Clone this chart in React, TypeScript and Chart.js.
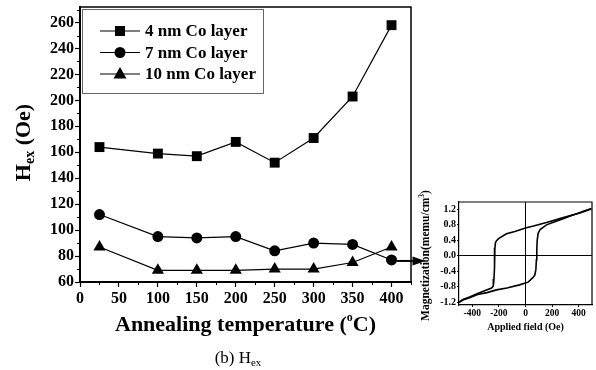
import React, { useEffect, useRef } from 'react';
import { Chart, registerables } from 'chart.js';

Chart.register(...registerables);

// ---- Main chart data ----
const temperatures = [25, 100, 150, 200, 250, 300, 350, 400];
const hex4nm = [164, 159, 157, 168, 152, 171, 203, 258];
const hex7nm = [112, 95, 94, 95, 84, 90, 89, 77];
const hex10nm = [87, 69, 69, 69, 70, 70, 75, 87];
const seriesLabels = ['4 nm Co layer', '7 nm Co layer', '10 nm Co layer'];
const seriesMarkers = ['rect', 'circle', 'triangle'];
const xTickValues = [0, 50, 100, 150, 200, 250, 300, 350, 400];
const yTickValues = [60, 80, 100, 120, 140, 160, 180, 200, 220, 240, 260];

// ---- Inset hysteresis loop data ----
const fieldDown = [495, 440, 380, 278, 158, 60, 0, -80, -143, -200, -218, -226, -230, -232, -234, -237, -242, -255, -293, -360, -420, -470, -500];
const magDown = [1.22, 1.16, 1.08, 0.98, 0.86, 0.77, 0.72, 0.63, 0.57, 0.45, 0.39, 0.34, 0.2, 0.0, -0.3, -0.6, -0.78, -0.83, -0.88, -0.97, -1.06, -1.13, -1.2];
const fieldUp = [-500, -470, -420, -360, -290, -218, -140, -45, 20, 53, 70, 78, 82, 85, 88, 95, 110, 158, 220, 278, 350, 420, 495];
const magUp = [-1.2, -1.14, -1.08, -1.0, -0.95, -0.88, -0.83, -0.75, -0.68, -0.57, -0.5, -0.35, -0.1, 0.15, 0.4, 0.58, 0.68, 0.8, 0.88, 0.95, 1.05, 1.12, 1.21];
const insetXTicks = [-400, -200, 0, 200, 400];
const insetYTicks = [-1.2, -0.8, -0.4, 0.0, 0.4, 0.8, 1.2];

const SERIF = "'Liberation Serif', 'Times New Roman', serif";

function drawMarker(ctx: CanvasRenderingContext2D, style: string, x: number, y: number) {
  ctx.beginPath();
  if (style === 'rect') {
    ctx.rect(x - 5, y - 5, 10, 10);
  } else if (style === 'circle') {
    ctx.arc(x, y, 5.5, 0, Math.PI * 2);
  } else {
    ctx.moveTo(x, y - 7);
    ctx.lineTo(x + 6.5, y + 4.5);
    ctx.lineTo(x - 6.5, y + 4.5);
    ctx.closePath();
  }
  ctx.fill();
}

const mainDecor = {
  id: 'mainDecor',
  afterDraw(chart: any) {
    const { ctx, chartArea, scales } = chart;
    const xs = scales.x;
    const ys = scales.y;
    ctx.save();
    ctx.strokeStyle = '#000';
    ctx.fillStyle = '#000';
    ctx.lineWidth = 1.5;
    ctx.beginPath();
    ctx.moveTo(chartArea.left, chartArea.top);
    ctx.lineTo(chartArea.right, chartArea.top);
    ctx.lineTo(chartArea.right, chartArea.bottom);
    ctx.stroke();
    ctx.lineWidth = 1;
    ctx.beginPath();
    for (let v = 70; v <= 270; v += 20) {
      const py = Math.round(ys.getPixelForValue(v)) + 0.5;
      ctx.moveTo(chartArea.left - 3, py);
      ctx.lineTo(chartArea.left, py);
    }
    for (let v = 25; v <= 425; v += 50) {
      const px = Math.round(xs.getPixelForValue(v)) + 0.5;
      ctx.moveTo(px, chartArea.bottom);
      ctx.lineTo(px, chartArea.bottom + 3);
    }
    ctx.stroke();

    const lx = chartArea.left + 2;
    const ly = chartArea.top + 2;
    ctx.strokeStyle = '#666';
    ctx.lineWidth = 1;
    ctx.strokeRect(lx + 0.5, ly + 0.5, 181, 84);
    ctx.strokeStyle = '#000';
    ctx.font = `bold 17px ${SERIF}`;
    ctx.textBaseline = 'middle';
    ctx.textAlign = 'left';
    seriesLabels.forEach((label, i) => {
      const ry = ly + 22 + i * 21.5;
      ctx.lineWidth = 1.2;
      ctx.beginPath();
      ctx.moveTo(lx + 18, ry);
      ctx.lineTo(lx + 58, ry);
      ctx.stroke();
      drawMarker(ctx, seriesMarkers[i], lx + 38, ry);
      ctx.fillText(label, lx + 63, ry + 1);
    });

    ctx.save();
    ctx.translate(22, (chartArea.top + chartArea.bottom) / 2 - 2);
    ctx.rotate(-Math.PI / 2);
    ctx.font = `bold 22px ${SERIF}`;
    const hW = ctx.measureText('H').width;
    ctx.font = `bold 14px ${SERIF}`;
    const subW = ctx.measureText('ex').width;
    ctx.font = `bold 22px ${SERIF}`;
    const restW = ctx.measureText(' (Oe)').width;
    let tx = -(hW + subW + restW) / 2;
    ctx.textBaseline = 'alphabetic';
    ctx.fillText('H', tx, 8);
    tx += hW;
    ctx.font = `bold 14px ${SERIF}`;
    ctx.fillText('ex', tx, 12);
    tx += subW;
    ctx.font = `bold 22px ${SERIF}`;
    ctx.fillText(' (Oe)', tx, 8);
    ctx.restore();

    ctx.textBaseline = 'alphabetic';
    ctx.font = `bold 22px ${SERIF}`;
    const p1 = 'Annealing temperature (';
    const p3 = 'C)';
    const w1 = ctx.measureText(p1).width;
    const w3 = ctx.measureText(p3).width;
    ctx.font = `bold 12px ${SERIF}`;
    const w2 = ctx.measureText('o').width;
    const cx = (chartArea.left + chartArea.right) / 2;
    let sx = cx - (w1 + w2 + w3) / 2;
    const by = 331;
    ctx.font = `bold 22px ${SERIF}`;
    ctx.fillText(p1, sx, by);
    sx += w1;
    ctx.font = `bold 12px ${SERIF}`;
    ctx.fillText('o', sx, by - 10);
    sx += w2;
    ctx.font = `bold 22px ${SERIF}`;
    ctx.fillText(p3, sx, by);

    ctx.font = `17px ${SERIF}`;
    const c1 = '(b) H';
    const cw1 = ctx.measureText(c1).width;
    ctx.font = `11px ${SERIF}`;
    const cw2 = ctx.measureText('ex').width;
    let ccx = 238 - (cw1 + cw2) / 2;
    ctx.font = `17px ${SERIF}`;
    ctx.fillText(c1, ccx, 363);
    ccx += cw1;
    ctx.font = `11px ${SERIF}`;
    ctx.fillText('ex', ccx, 366);

    const ax = xs.getPixelForValue(temperatures[temperatures.length - 1]) + 5;
    const ay = ys.getPixelForValue(hex7nm[hex7nm.length - 1]) + 1;
    ctx.lineWidth = 2;
    ctx.beginPath();
    ctx.moveTo(ax, ay);
    ctx.lineTo(ax + 18, ay);
    ctx.stroke();
    ctx.beginPath();
    ctx.moveTo(ax + 16, ay - 4.5);
    ctx.lineTo(ax + 29, ay);
    ctx.lineTo(ax + 16, ay + 4.5);
    ctx.closePath();
    ctx.fill();
    ctx.restore();
  },
};

const insetDecor = {
  id: 'insetDecor',
  afterDraw(chart: any) {
    const { ctx, chartArea } = chart;
    ctx.save();
    ctx.strokeStyle = '#000';
    ctx.fillStyle = '#000';
    ctx.lineWidth = 1.2;
    ctx.beginPath();
    ctx.moveTo(chartArea.left, chartArea.top);
    ctx.lineTo(chartArea.right, chartArea.top);
    ctx.lineTo(chartArea.right, chartArea.bottom);
    ctx.stroke();
    ctx.save();
    ctx.translate(13, (chartArea.top + chartArea.bottom) / 2 + 2);
    ctx.rotate(-Math.PI / 2);
    ctx.font = `bold 11.5px ${SERIF}`;
    const m1 = 'Magnetization(memu/cm';
    const mw1 = ctx.measureText(m1).width;
    ctx.font = `bold 7.5px ${SERIF}`;
    const mw2 = ctx.measureText('3').width;
    ctx.font = `bold 11.5px ${SERIF}`;
    const mw3 = ctx.measureText(')').width;
    let tx = -(mw1 + mw2 + mw3) / 2;
    ctx.textBaseline = 'middle';
    ctx.fillText(m1, tx, 0);
    tx += mw1;
    ctx.font = `bold 7.5px ${SERIF}`;
    ctx.fillText('3', tx, -4);
    tx += mw2;
    ctx.font = `bold 11.5px ${SERIF}`;
    ctx.fillText(')', tx, 0);
    ctx.restore();
    ctx.font = `bold 10px ${SERIF}`;
    ctx.textAlign = 'center';
    ctx.textBaseline = 'middle';
    ctx.fillText('Applied field (Oe)', (chartArea.left + chartArea.right) / 2, chartArea.bottom + 22);
    ctx.restore();
  },
};

export default function App() {
  const mainRef = useRef<HTMLCanvasElement>(null);
  const insetRef = useRef<HTMLCanvasElement>(null);

  useEffect(() => {
    const mk = (vals: number[]) => temperatures.map((t, i) => ({ x: t, y: vals[i] }));
    const seriesValues = [hex4nm, hex7nm, hex10nm];
    const radii = [7, 5.5, 7];
    const main = new Chart(mainRef.current as HTMLCanvasElement, {
      type: 'line',
      data: {
        datasets: seriesLabels.map((label, i) => ({
          label,
          data: mk(seriesValues[i]),
          borderColor: '#000',
          backgroundColor: '#000',
          borderWidth: 1.2,
          pointStyle: seriesMarkers[i] as any,
          pointRadius: radii[i],
          pointBackgroundColor: '#000',
          pointBorderColor: '#000',
          pointBorderWidth: 0,
          tension: 0,
        })),
      },
      options: {
        responsive: false,
        animation: false,
        layout: { padding: { left: 0, top: 5, right: 185, bottom: 0 } },
        plugins: { legend: { display: false }, tooltip: { enabled: false } },
        scales: {
          x: {
            type: 'linear',
            min: 0,
            max: 425,
            afterBuildTicks: (s: any) => {
              s.ticks = xTickValues.map((v) => ({ value: v }));
            },
            afterFit: (s: any) => {
              s.height = 88;
            },
            ticks: {
              color: '#000',
              font: { family: SERIF, size: 16, weight: 'bold' },
              padding: 2,
              maxRotation: 0,
              autoSkip: false,
              callback: (v: any) => String(v),
            },
            grid: { drawOnChartArea: false, color: '#000', tickLength: 5, tickWidth: 1.2 },
            border: { color: '#000', width: 2 },
          },
          y: {
            type: 'linear',
            min: 60,
            max: 272,
            afterBuildTicks: (s: any) => {
              s.ticks = yTickValues.map((v) => ({ value: v }));
            },
            afterFit: (s: any) => {
              s.width = 80;
              s.paddingTop = 0;
              s.paddingBottom = 0;
            },
            ticks: {
              color: '#000',
              font: { family: SERIF, size: 16, weight: 'bold' },
              padding: 1,
              autoSkip: false,
              callback: (v: any) => String(v),
            },
            grid: { drawOnChartArea: false, color: '#000', tickLength: 5, tickWidth: 1.2 },
            border: { color: '#000', width: 2 },
          },
        },
      },
      plugins: [mainDecor],
    });

    const inset = new Chart(insetRef.current as HTMLCanvasElement, {
      type: 'scatter',
      data: {
        datasets: [
          {
            label: 'descending',
            data: fieldDown.map((f, i) => ({ x: f, y: magDown[i] })),
            showLine: true,
            borderColor: '#000',
            borderWidth: 1.6,
            pointRadius: 0,
            tension: 0,
          },
          {
            label: 'ascending',
            data: fieldUp.map((f, i) => ({ x: f, y: magUp[i] })),
            showLine: true,
            borderColor: '#000',
            borderWidth: 1.6,
            pointRadius: 0,
            tension: 0,
          },
        ],
      },
      options: {
        responsive: false,
        animation: false,
        layout: { padding: { left: 0, top: 18, right: 4, bottom: 0 } },
        plugins: { legend: { display: false }, tooltip: { enabled: false } },
        scales: {
          x: {
            type: 'linear',
            min: -500,
            max: 500,
            afterBuildTicks: (s: any) => {
              s.ticks = insetXTicks.map((v) => ({ value: v }));
            },
            afterFit: (s: any) => {
              s.height = 28;
            },
            ticks: {
              color: '#000',
              font: { family: SERIF, size: 9.5, weight: 'bold' },
              padding: 1,
              maxRotation: 0,
              autoSkip: false,
              callback: (v: any) => String(v),
            },
            grid: {
              color: (c: any) => (c.tick && c.tick.value === 0 ? '#000' : 'rgba(0,0,0,0)'),
              tickColor: '#000',
              lineWidth: 1,
              tickLength: 2,
            },
            border: { color: '#000', width: 1.2 },
          },
          y: {
            type: 'linear',
            min: -1.27,
            max: 1.39,
            afterBuildTicks: (s: any) => {
              s.ticks = insetYTicks.map((v) => ({ value: v }));
            },
            afterFit: (s: any) => {
              s.width = 46;
              s.paddingTop = 0;
              s.paddingBottom = 0;
            },
            ticks: {
              color: '#000',
              font: { family: SERIF, size: 10, weight: 'bold' },
              padding: 1,
              autoSkip: false,
              callback: (v: any) => Number(v).toFixed(1),
            },
            grid: {
              color: (c: any) => (c.tick && Math.abs(c.tick.value) < 1e-9 ? '#000' : 'rgba(0,0,0,0)'),
              tickColor: '#000',
              lineWidth: 1,
              tickLength: 2,
            },
            border: { color: '#000', width: 1.2 },
          },
        },
      },
      plugins: [insetDecor],
    });

    return () => {
      main.destroy();
      inset.destroy();
    };
  }, []);

  return (
    <div style={{ position: 'absolute', left: 0, top: 0, width: 596, height: 370, background: '#fff' }}>
      <canvas ref={mainRef} width={596} height={370} style={{ position: 'absolute', left: 0, top: 0 }} />
      <canvas ref={insetRef} width={183} height={149} style={{ position: 'absolute', left: 413, top: 184 }} />
    </div>
  );
}
